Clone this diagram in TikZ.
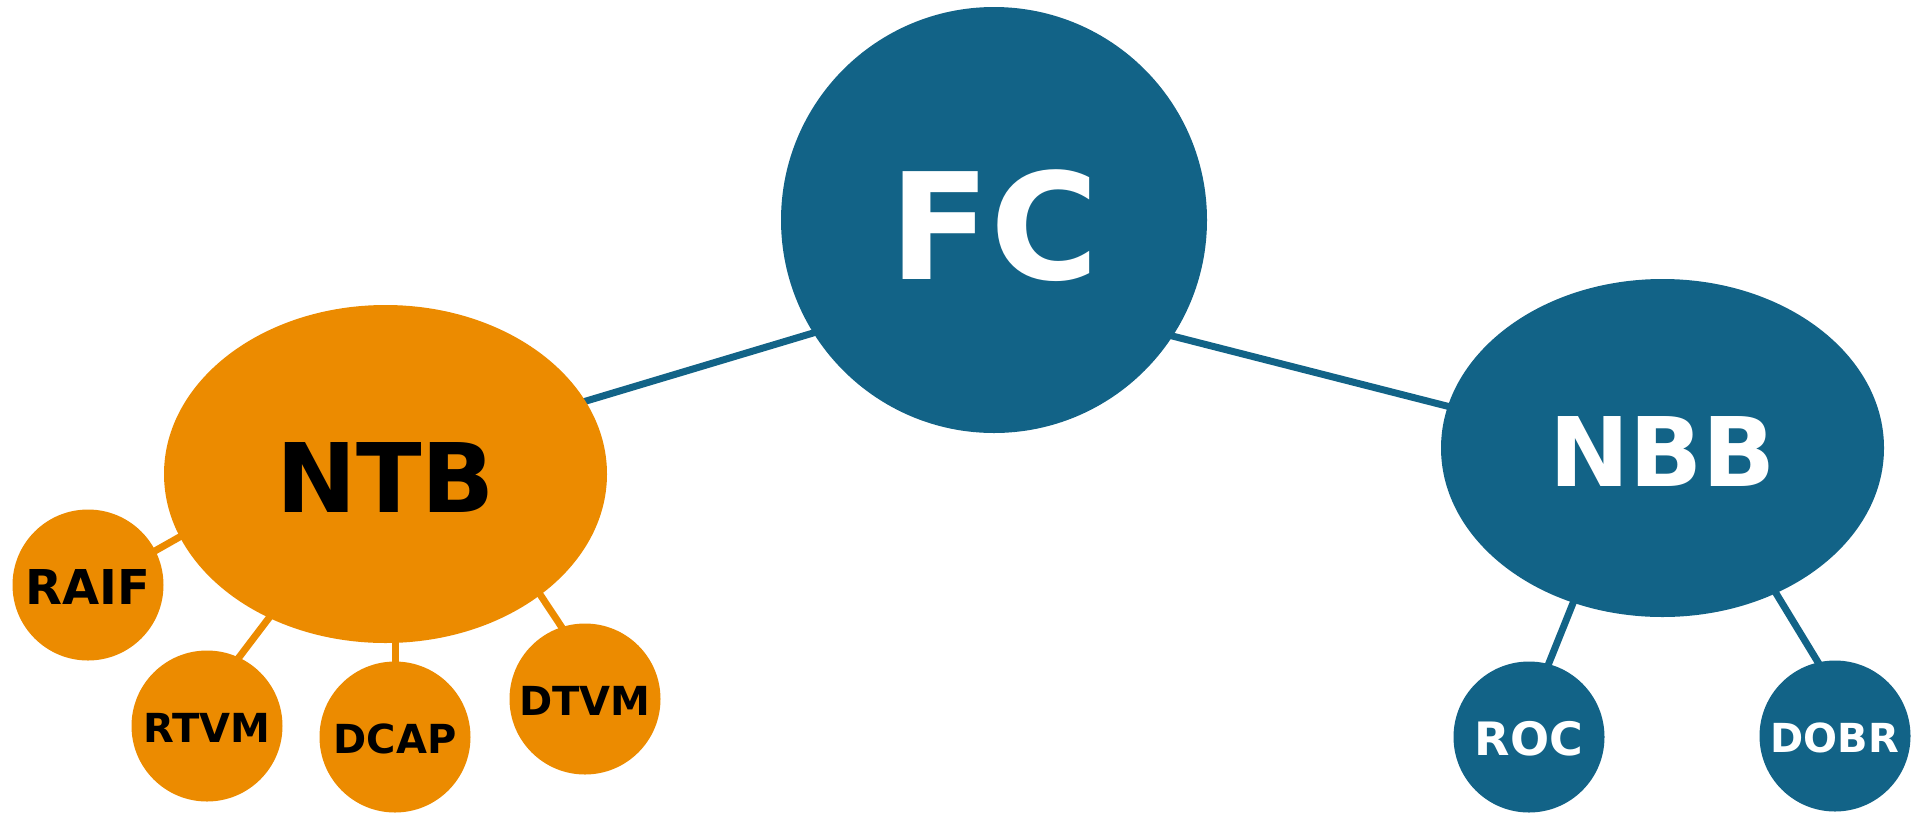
\documentclass[tikz,border=0pt]{standalone}
\usepackage{fontspec}
\usetikzlibrary{shapes.geometric,backgrounds}
\newfontfamily\labfont{DejaVu Sans}
\definecolor{hubblue}{HTML}{126387}
\definecolor{huborange}{HTML}{EC8B00}
\tikzset{
  x=1pt, y=-1pt,
  labtext/.style={font=\labfont\bfseries\fontsize{#1}{#1}\selectfont, text height={0.81*#1pt}, text depth=0pt, inner sep=0pt},
  bigcircle/.style={circle, fill=hubblue, text=white, minimum size=426pt, labtext=148},
  bluehub/.style={ellipse, fill=hubblue, text=white, minimum width=443pt, minimum height=338pt, labtext=96},
  orangehub/.style={ellipse, fill=huborange, text=black, minimum width=443pt, minimum height=338pt, labtext=96},
  blueleaf/.style={circle, fill=hubblue, text=white, minimum size=151pt, labtext=#1},
  orangeleaf/.style={circle, fill=huborange, text=black, minimum size=151pt, labtext=#1},
  blink/.style={draw=hubblue, line width=7pt, shorten <=-6pt, shorten >=-6pt},
  olink/.style={draw=huborange, line width=7pt, shorten <=-6pt, shorten >=-6pt},
}
\begin{document}
\begin{tikzpicture}
\useasboundingbox (0,0) rectangle (1924,812);

% main hubs
\node[bigcircle] (fc) at (994,220) {FC};
\node[orangehub] (ntb) at (385.5,474) {NTB};
\node[bluehub] (nbb) at (1662.5,448) {NBB};

% leaves
\node[orangeleaf=48] (raif) at (88,585) {RAIF};
\node[orangeleaf=40] (rtvm) at (207,726) {RTVM};
\node[orangeleaf=40] (dcap) at (395,737) {DCAP};
\node[orangeleaf=40] (dtvm) at (585,699) {DTVM};
\node[blueleaf=46] (roc) at (1529,737) {ROC};
\node[blueleaf=40] (dobr) at (1835,736) {DOBR};

% connectors behind the shapes
\begin{pgfonlayer}{background}
  \draw[blink] (fc.212.7) -- (ntb.20.5);
  \draw[blink] (fc.327.7) -- (nbb.169.6);
  \draw[olink] (ntb.197.3) -- (raif.27);
  \draw[olink] (ntb.231.7) -- (rtvm.65);
  \draw[olink] (dcap.north) -- (dcap.north |- ntb.south);
  \draw[olink] (ntb.322.1) -- (dtvm.108);
  \draw[blink] (nbb.240.6) -- (roc.75.8);
  \draw[blink] (nbb.308.3) -- (dobr.103.9);
\end{pgfonlayer}
\end{tikzpicture}
\end{document}
